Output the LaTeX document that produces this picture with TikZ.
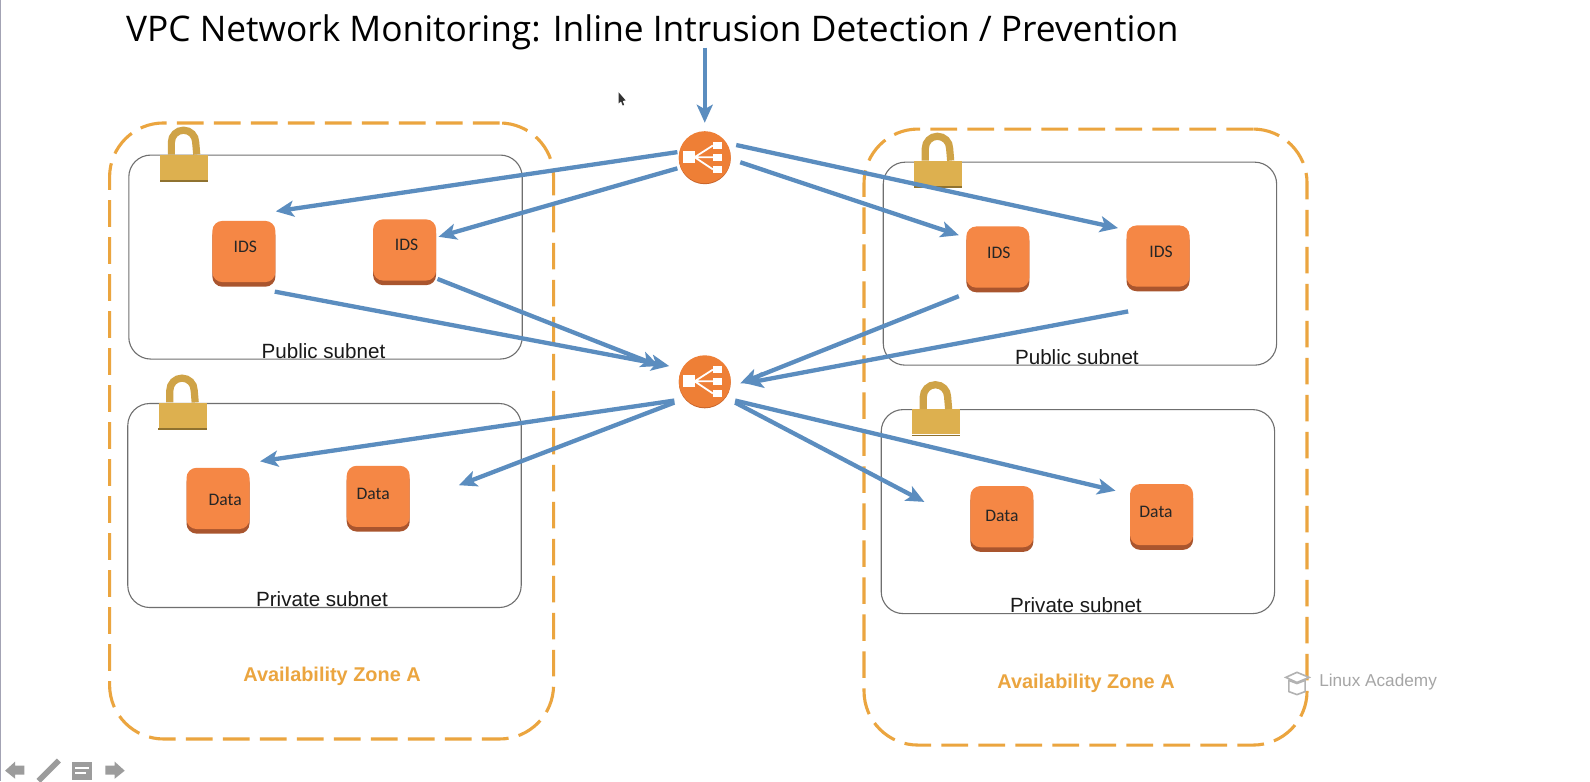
\documentclass[tikz,border=0pt]{standalone}
\usepackage{fontspec}
\setmainfont{Liberation Sans}
\newfontfamily\opensans{Open Sans}
\newfontfamily\carlito{Carlito}
\usetikzlibrary{calc,arrows.meta}
\definecolor{zoneor}{HTML}{EBA53F}
\definecolor{flowblue}{HTML}{5B8DBF}
\definecolor{srvor}{HTML}{F58745}
\definecolor{srvdk}{HTML}{A9552E}
\definecolor{lockgd}{HTML}{DDB04F}
\definecolor{lockarch}{HTML}{CFA347}
\definecolor{lockdk}{HTML}{8F7230}
\definecolor{lbor}{HTML}{EE7F36}
\definecolor{lbdk}{HTML}{C9652B}
\definecolor{subgray}{HTML}{6F6F6F}
\definecolor{navgray}{HTML}{9C9C9C}
\tikzset{
  zonebox/.style={draw=zoneor,line width=1.55pt,dash pattern=on 13.3pt off 5.2pt,rounded corners=27pt},
  subnetbox/.style={draw=subgray,line width=0.55pt,rounded corners=11pt},
  flow/.style={draw=flowblue,line width=2.15pt,-{Stealth[length=9pt,width=8pt,inset=2.2pt]}},
  srvbox/.style={fill=srvor,draw=none,rounded corners=5pt,minimum width=31.5pt,minimum height=30.6pt,inner sep=0pt,
    preaction={fill=srvdk,draw=none,rounded corners=5pt,transform canvas={yshift=-2.3pt}}},
  srvtext/.style={font=\carlito\fontsize{8.8}{9}\selectfont,text=black!85,inner sep=0pt},
  subtext/.style={font=\fontsize{10.3}{10}\selectfont,text=black!90,inner sep=0pt},
  zonetext/.style={font=\bfseries\fontsize{9.95}{10}\selectfont,text=zoneor,inner sep=0pt},
  lockbody/.style={fill=lockgd,draw=none,minimum width=24pt,minimum height=12.4pt,inner sep=0pt},
  lbnode/.style={circle,fill=lbor,draw=none,minimum size=26pt,inner sep=0pt},
  navicon/.style={fill=navgray,draw=none},
}
\newcommand{\lockat}[1]{%
  \draw[lockarch,line width=3.6pt] ($(#1.north west)!.24!(#1.north east)$) -- ++(0,-12)
     arc[start angle=180,end angle=0,x radius=12,y radius=-12] -- ($(#1.north west)!.76!(#1.north east)$);
  \fill[lockdk] (#1.south west) rectangle ($(#1.south east)+(0,1.6)$);
}
\newcommand{\lbicon}[1]{%
  \begin{scope}[shift={(#1)}]
    \fill[white] (-21,-6) rectangle (-10,6);
    \fill[white] (8,-15) rectangle (17,-8);
    \fill[white] (8,-3.5) rectangle (17,3.5);
    \fill[white] (8,8.5) rectangle (17,15.5);
    \draw[white,line width=0.9pt] (-10,0) -- (8,-11.5) (-10,0) -- (8,0) (-10,0) -- (8,12);
  \end{scope}
}
\begin{document}
\begin{tikzpicture}[x=0.507pt,y=-0.507pt]
\useasboundingbox (0,0) rectangle (1568,770.2);
\fill[white] (0,0) rectangle (1568,770.2);
\fill[black!45!blue!20!gray!60] (0,0) rectangle (1.3,770.2);

% zones
\node[zonebox,minimum width=222pt,minimum height=308pt,inner sep=0pt] (zoneL) at (327,425) {};
\node[zonebox,minimum width=221.5pt,minimum height=308pt,inner sep=0pt] (zoneR) at (1070.5,431) {};

% subnets
\node[subnetbox,minimum width=196.7pt,minimum height=102pt,inner sep=0pt] (pubL) at (321,253.5) {};
\node[subnetbox,minimum width=196.7pt,minimum height=102pt,inner sep=0pt] (privL) at (320,498.5) {};
\node[subnetbox,minimum width=196.7pt,minimum height=101.5pt,inner sep=0pt] (pubR) at (1065,260) {};
\node[subnetbox,minimum width=196.7pt,minimum height=102pt,inner sep=0pt] (privR) at (1063,504.5) {};

% locks
\foreach \nm/\px/\py in {lockA/181.5/165,lockB/180/409.5,lockC/925/171,lockD/923/416}{
  \node[lockbody] (\nm) at (\px,\py) {};
  \lockat{\nm}
}

% servers
\node[srvbox] (idsA) at (240.5,248) {};
\node[srvbox] (idsB) at (399,246.5) {};
\node[srvbox] (idsC) at (984,253.5) {};
\node[srvbox] (idsD) at (1142,252.5) {};
\node[srvbox] (dataA) at (215,491.5) {};
\node[srvbox] (dataB) at (373,489.5) {};
\node[srvbox] (dataC) at (988,509.5) {};
\node[srvbox] (dataD) at (1145.5,507.5) {};

\node[srvtext] (tA) at (242,243) {IDS};
\node[srvtext] (tB) at (401,241) {IDS};
\node[srvtext] (tC) at (985,249) {IDS};
\node[srvtext] (tD) at (1145,248) {IDS};
\node[srvtext] (tE) at (222,493) {Data};
\node[srvtext] (tF) at (368,487) {Data};
\node[srvtext] (tG) at (988,509) {Data};
\node[srvtext] (tH) at (1140,505) {Data};

% load balancers
\node[lbnode,fill=lbdk] (lbTs) at (695,156) {};
\node[lbnode] (lbT) at (695,155) {};
\node[lbnode,fill=lbdk] (lbMs) at (695,377) {};
\node[lbnode] (lbM) at (695,376) {};
\lbicon{lbT.center}
\lbicon{lbM.center}

% subnet and zone labels
\node[subtext] (l1) at (319,346) {Public subnet};
\node[subtext] (l2) at (317.5,591) {Private subnet};
\node[subtext] (l3) at (1062,352) {Public subnet};
\node[subtext] (l4) at (1061,597) {Private subnet};
\node[zonetext] (l5) at (327.5,666.5) {Availability Zone A};
\node[zonetext] (l6) at (1071,673.5) {Availability Zone A};

% title
\node[font=\opensans\fontsize{17.64}{18}\selectfont,text=black,inner sep=0pt,anchor=west] (title) at (124,32) {VPC Network Monitoring: Inline Intrusion Detection / Prevention};
\coordinate (entry) at (695,47);

% connectors
\draw[flow] (entry) -- ($(lbT.center)+(0,-34)$);
\draw[flow] ($(lbT.center)+(-27,-5)$) -- ($(idsA.north east)+(0,-9)$);
\draw[flow] ($(lbT.center)+(-27,11)$) -- ($(idsB.east)+(2,-13)$);
\draw[flow] ($(lbT.center)+(31,-12)$) -- ($(idsD.north west)+(-8,3)$);
\draw[flow] ($(lbT.center)+(35,5)$) -- ($(idsC.north west)+(-7,9)$);
\draw[flow] ($(idsA.south east)+(-1,9)$) -- ($(lbM.center)+(-35,-15)$);
\draw[flow] ($(idsB.south east)+(1,-2)$) -- ($(lbM.center)+(-45,-15)$);
\draw[flow] ($(idsC.south west)+(-7,8)$) -- ($(lbM.center)+(35,2)$);
\draw[flow] ($(idsD.south west)+(2,24)$) -- ($(lbM.center)+(40,2)$);
\draw[flow] ($(lbM.center)+(-30,19)$) -- ($(dataA.north east)+(10,-6)$);
\draw[flow] ($(lbM.center)+(-30,21)$) -- ($(dataB.east)+(48,-11)$);
\draw[flow] ($(lbM.center)+(30,19)$) -- ($(dataD.north west)+(-14,7)$);
\draw[flow] ($(lbM.center)+(30,21)$) -- ($(dataC.north west)+(-45,16)$);

% watermark
\node[font=\fontsize{8.6}{9}\selectfont,text=gray!70,inner sep=0pt] (wm) at (1359,673) {Linux Academy};
\draw[gray!60,line width=0.8pt,fill=white] (1268,668) -- (1279,663) -- (1291,668) -- (1279,673) -- cycle;
\draw[gray!60,line width=0.8pt,fill=white] (1271,671) -- (1271,682) -- (1279,685) -- (1287,682) -- (1287,671) -- (1279,674) -- cycle;

% cursor
\fill[black!80] (610,91) -- (610,102) -- (612.5,100) -- (614,104) -- (615.5,103.5) -- (614,99.5) -- (617,99) -- cycle;

% navigation icons
\fill[navicon] (5,760) -- (15,751) -- (15,755) -- (24,755) -- (24,764) -- (15,764) -- (15,768) -- cycle;
\draw[navgray,line width=2.8pt] (38,770) -- (58,750);
\fill[navicon] (71,751) rectangle (91,769);
\draw[white,line width=1pt] (74,757) -- (88,757) (74,762) -- (85,762);
\fill[navicon] (123,760) -- (113,751) -- (113,755) -- (104,755) -- (104,764) -- (113,764) -- (113,768) -- cycle;
\end{tikzpicture}
\end{document}
